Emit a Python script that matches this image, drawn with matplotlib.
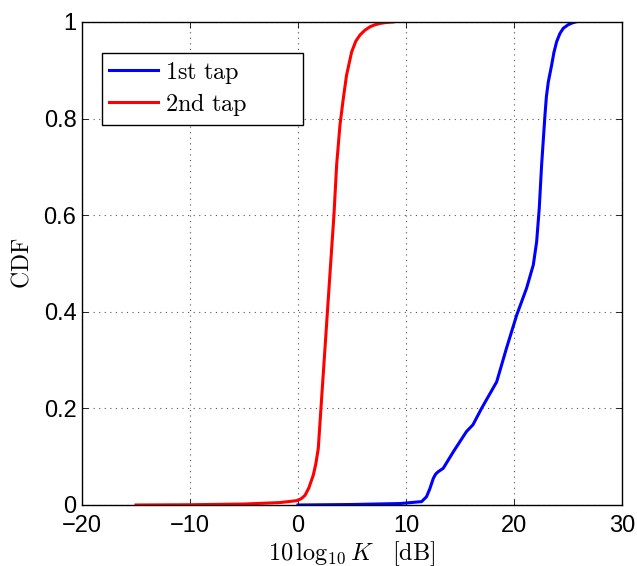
import matplotlib
matplotlib.use("Agg")
import matplotlib.pyplot as plt

# Empirical CDF of the Rician K-factor (dB) for the two channel taps
tap1_k_db = [0.0, 5.0, 9.44, 11.45, 11.9, 12.2, 12.53, 12.75, 12.99, 13.45, 14.38,
             15.6, 16.2, 17.0, 18.4, 19.3, 20.25, 21.17, 21.79, 22.1, 22.34, 22.56,
             22.87, 23.0, 23.18, 23.35, 23.49, 23.7, 23.95, 24.25, 24.57, 25.0,
             25.4, 25.7]
tap1_cdf = [0.0, 0.001, 0.003, 0.007, 0.017, 0.033, 0.055, 0.064, 0.069, 0.076, 0.11,
            0.152, 0.166, 0.2, 0.255, 0.324, 0.393, 0.449, 0.497, 0.545, 0.614, 0.704,
            0.807, 0.845, 0.876, 0.895, 0.911, 0.937, 0.959, 0.976, 0.987, 0.994,
            0.998, 1.0]

tap2_k_db = [-15.0, -10.0, -5.0, -1.67, -0.12, 0.3, 0.65, 1.0, 1.42, 1.65, 1.88,
             2.19, 2.5, 2.81, 3.12, 3.33, 3.58, 3.89, 4.2, 4.5, 4.97, 5.35, 5.74,
             6.2, 6.67, 7.1, 7.6, 8.2, 8.8]
tap2_cdf = [0.0, 0.0005, 0.002, 0.005, 0.009, 0.013, 0.02, 0.035, 0.062, 0.085, 0.117,
            0.221, 0.324, 0.428, 0.531, 0.6, 0.704, 0.787, 0.842, 0.89, 0.938, 0.96,
            0.973, 0.983, 0.99, 0.994, 0.997, 0.999, 1.0]

series_labels = [r"$\mathrm{1st\ tap}$", r"$\mathrm{2nd\ tap}$"]
x_ticks = [-20, -10, 0, 10, 20, 30]
y_ticks = [0, 0.2, 0.4, 0.6, 0.8, 1.0]
y_tick_labels = ["0", "0.2", "0.4", "0.6", "0.8", "1"]

plt.rcParams["mathtext.fontset"] = "cm"
plt.rcParams["font.family"] = ["Liberation Sans", "DejaVu Sans"]

fig = plt.figure(figsize=(6.37, 5.66), dpi=100)
ax = fig.add_axes([0.1287, 0.1078, 0.8477, 0.8534])

ax.plot(tap1_k_db, tap1_cdf, color="#0000ff", lw=2.2, label=series_labels[0],
        solid_joinstyle="round")
ax.plot(tap2_k_db, tap2_cdf, color="#ff0000", lw=2.2, label=series_labels[1],
        solid_joinstyle="round")

ax.set_xlim(-20, 30)
ax.set_ylim(0, 1)
ax.set_xticks(x_ticks)
ax.set_yticks(y_ticks)
ax.set_yticklabels(y_tick_labels)

ax.grid(True, linestyle=(0, (1, 4)), color="#555555", linewidth=0.8)
ax.tick_params(direction="in", length=4, width=0.6, top=True, right=True,
               labelsize=17, colors="black")
ax.tick_params(axis="x", pad=7)
ax.tick_params(axis="y", pad=4)
for sp in ax.spines.values():
    sp.set_linewidth(1.0)
    sp.set_color("black")

ax.set_xlabel(r"$10\,\log_{10}K\ \ \ [\mathrm{dB}]$", fontsize=17.5, labelpad=2)
ax.set_ylabel(r"$\mathrm{CDF}$", fontsize=17, labelpad=7)

leg = ax.legend(loc="upper left", bbox_to_anchor=(0.0365, 0.7915, 0.3728, 0.145),
                mode="expand", borderaxespad=0,
                fontsize=17.5, fancybox=False, framealpha=1, edgecolor="black",
                handlelength=2.0, handletextpad=0.3, borderpad=0.3, labelspacing=0.2)
leg.get_frame().set_linewidth(1.0)
for h in leg.legend_handles:
    h.set_linewidth(2.2)

fig.savefig("out.png", dpi=100)
